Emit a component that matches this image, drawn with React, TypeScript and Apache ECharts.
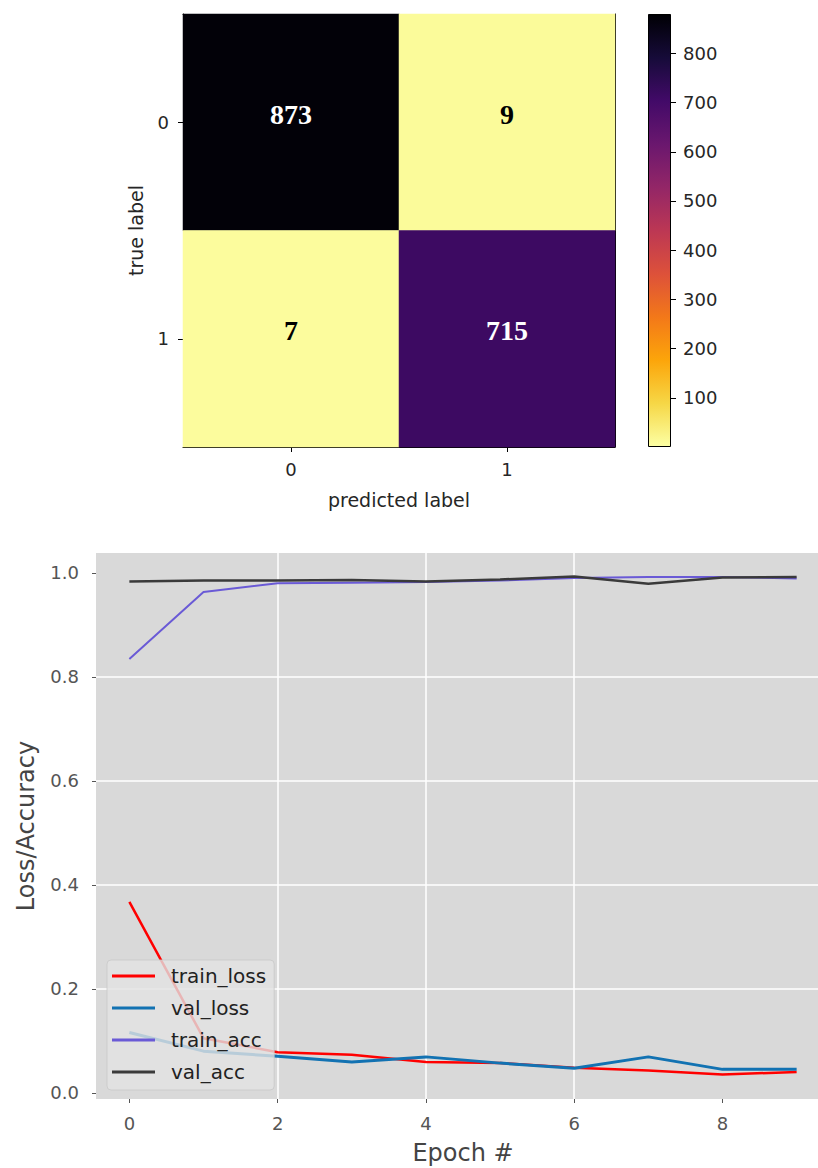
import React, { useEffect, useRef } from "react";
import * as echarts from "echarts";

// ---- Data ----
const CLASSES = ["0", "1"];
// rows: true label, cols: predicted label
const CONFUSION = [
  [873, 9],
  [7, 715],
];
const COLORBAR_MIN = 0;
const COLORBAR_MAX = 880;
const COLORBAR_TICKS = [100, 200, 300, 400, 500, 600, 700, 800];

const EPOCHS = [0, 1, 2, 3, 4, 5, 6, 7, 8, 9];
const TRAIN_LOSS = [0.367, 0.105, 0.078, 0.073, 0.059, 0.057, 0.048, 0.043, 0.035, 0.040];
const VAL_LOSS = [0.116, 0.080, 0.070, 0.059, 0.069, 0.057, 0.047, 0.069, 0.045, 0.045];
const TRAIN_ACC = [0.834, 0.963, 0.980, 0.981, 0.982, 0.985, 0.990, 0.992, 0.992, 0.989];
const VAL_ACC = [0.983, 0.985, 0.985, 0.986, 0.983, 0.987, 0.993, 0.979, 0.991, 0.992];
const EPOCH_TICKS = [0, 2, 4, 6, 8];
const METRIC_TICKS = [0, 0.2, 0.4, 0.6, 0.8, 1.0];

// inferno_r colormap (low -> high)
const INFERNO_R = [
  "#fcffa4", "#f6d746", "#fca50a", "#f37819", "#dd513a", "#bc3754",
  "#932667", "#6a176e", "#420a68", "#160b39", "#000004",
];

const FONT = "DejaVu Sans";

export default function App() {
  const ref = useRef<HTMLDivElement>(null);

  useEffect(() => {
    document.body.style.margin = "0";
    if (!ref.current) return;
    const chart = echarts.init(ref.current, undefined, { renderer: "svg" });

    const heatData: any[] = [];
    CONFUSION.forEach((row, ti) => {
      row.forEach((v, pi) => {
        heatData.push({
          value: [pi, ti, v],
          label: { color: v > (COLORBAR_MAX - COLORBAR_MIN) / 2 ? "#ffffff" : "#000000" },
        });
      });
    });

    const gradient = new echarts.graphic.LinearGradient(
      0, 1, 0, 0,
      INFERNO_R.map((c, i) => ({ offset: i / (INFERNO_R.length - 1), color: c }))
    );

    const lineSeries = (name: string, values: number[], color: string, width: number) => ({
      name,
      type: "line",
      xAxisIndex: 3,
      yAxisIndex: 3,
      data: EPOCHS.map((e, i) => [e, values[i]]),
      showSymbol: false,
      symbol: "none",
      lineStyle: { color, width },
      itemStyle: { color },
      z: 3,
    });

    const option: any = {
      animation: false,
      textStyle: { fontFamily: FONT },
      grid: [
        { left: 183, top: 14, width: 432, height: 433, containLabel: false, outerBoundsMode: "none" },
        { left: 648, top: 14, width: 23, height: 433, containLabel: false, outerBoundsMode: "none" },
        {
          left: 96, top: 553, width: 734, height: 546, outerBoundsMode: "none",
          show: true, backgroundColor: "#d9d9d9", borderWidth: 0, containLabel: false,
        },
      ],
      visualMap: {
        type: "continuous",
        show: false,
        min: COLORBAR_MIN,
        max: COLORBAR_MAX,
        seriesIndex: 0,
        inRange: { color: INFERNO_R },
      },
      xAxis: [
        {
          type: "category", gridIndex: 0, data: CLASSES, position: "bottom",
          axisLine: { show: true, lineStyle: { color: "#000", width: 1 } },
          axisTick: { show: true, alignWithLabel: true, length: 5, lineStyle: { color: "#000" } },
          axisLabel: { fontSize: 18, color: "#262626", margin: 13 },
          splitLine: { show: false },
          name: "predicted label", nameLocation: "middle", nameGap: 43,
          nameTextStyle: { fontSize: 19, color: "#262626" },
        },
        {
          type: "category", gridIndex: 0, data: CLASSES, position: "top",
          axisLine: { show: true, lineStyle: { color: "#000", width: 1 } },
          axisTick: { show: false }, axisLabel: { show: false }, splitLine: { show: false },
        },
        {
          type: "category", gridIndex: 1, data: ["cb"],
          axisLine: { show: false }, axisTick: { show: false }, axisLabel: { show: false },
          splitLine: { show: false },
        },
        {
          type: "value", gridIndex: 2, min: -0.45, max: 9.45,
          axisLine: { show: false, onZero: false },
          axisTick: { show: true, length: 4, lineStyle: { color: "#555" }, customValues: EPOCH_TICKS },
          axisLabel: { fontSize: 18, color: "#555", margin: 15, customValues: EPOCH_TICKS },
          splitLine: {
            show: true, showMinLine: false, showMaxLine: false,
            lineStyle: { color: "#ffffff", width: 1.5 },
          },
          name: "Epoch #", nameLocation: "middle", nameGap: 42,
          nameTextStyle: { fontSize: 24, color: "#444" },
        },
      ],
      yAxis: [
        {
          type: "category", gridIndex: 0, data: CLASSES, inverse: true, position: "left",
          axisLine: { show: true, lineStyle: { color: "#000", width: 1 } },
          axisTick: { show: true, alignWithLabel: true, length: 5, lineStyle: { color: "#000" } },
          axisLabel: { fontSize: 18, color: "#262626", margin: 14 },
          splitLine: { show: false },
          name: "true label", nameLocation: "middle", nameGap: 38,
          nameTextStyle: { fontSize: 19, color: "#262626" },
        },
        {
          type: "category", gridIndex: 0, data: CLASSES, inverse: true, position: "right",
          axisLine: { show: true, lineStyle: { color: "#000", width: 1 } },
          axisTick: { show: false }, axisLabel: { show: false }, splitLine: { show: false },
        },
        {
          type: "value", gridIndex: 1, min: COLORBAR_MIN, max: COLORBAR_MAX, position: "right",
          axisLine: { show: false, onZero: false },
          axisTick: { show: true, length: 5, lineStyle: { color: "#000" }, customValues: COLORBAR_TICKS },
          axisLabel: { fontSize: 18, color: "#262626", margin: 12, customValues: COLORBAR_TICKS },
          splitLine: { show: false },
        },
        {
          type: "value", gridIndex: 2, min: -0.012, max: 1.038, position: "left",
          axisLine: { show: false, onZero: false },
          axisTick: { show: true, length: 4, lineStyle: { color: "#555" }, customValues: METRIC_TICKS },
          axisLabel: {
            fontSize: 18, color: "#555", margin: 17, customValues: METRIC_TICKS,
            formatter: (v: number) => v.toFixed(1),
          },
          splitLine: {
            show: true, showMinLine: false, showMaxLine: false,
            lineStyle: { color: "#ffffff", width: 1.5 },
          },
          name: "Loss/Accuracy", nameLocation: "middle", nameGap: 58,
          nameTextStyle: { fontSize: 24, color: "#444" },
        },
      ],
      legend: {
        orient: "vertical",
        left: 107,
        top: 960,
        data: ["train_loss", "val_loss", "train_acc", "val_acc"],
        icon: "rect",
        itemWidth: 43,
        itemHeight: 3,
        itemGap: 12,
        padding: [6, 8, 8, 5],
        backgroundColor: "rgba(226,226,226,0.8)",
        borderColor: "rgba(200,200,200,0.8)",
        borderWidth: 1,
        borderRadius: 4,
        textStyle: { fontSize: 20, color: "#222", lineHeight: 20, padding: [0, 0, 0, 11] },
      },
      series: [
        {
          type: "heatmap",
          xAxisIndex: 0,
          yAxisIndex: 0,
          data: heatData,
          label: {
            show: true,
            formatter: (p: any) => String(p.value[2]),
            fontFamily: "Liberation Serif",
            fontWeight: "bold",
            fontSize: 28,
            offset: [0, -8],
          },
          emphasis: { disabled: true },
        },
        {
          type: "bar",
          xAxisIndex: 2,
          yAxisIndex: 2,
          data: [COLORBAR_MAX],
          barWidth: "100%",
          itemStyle: { color: gradient, borderColor: "#000", borderWidth: 1 },
          silent: true,
        },
        lineSeries("train_loss", TRAIN_LOSS, "#ff0000", 2.5),
        lineSeries("val_loss", VAL_LOSS, "#1272b2", 3),
        lineSeries("train_acc", TRAIN_ACC, "#6a5ad6", 2),
        lineSeries("val_acc", VAL_ACC, "#3a3a3a", 2.5),
      ],
    };

    chart.setOption(option);
    return () => chart.dispose();
  }, []);

  return (
    <div style={{ width: 818, height: 1168, overflow: "hidden" }}>
      <div ref={ref} style={{ width: 830, height: 1168 }} />
    </div>
  );
}
